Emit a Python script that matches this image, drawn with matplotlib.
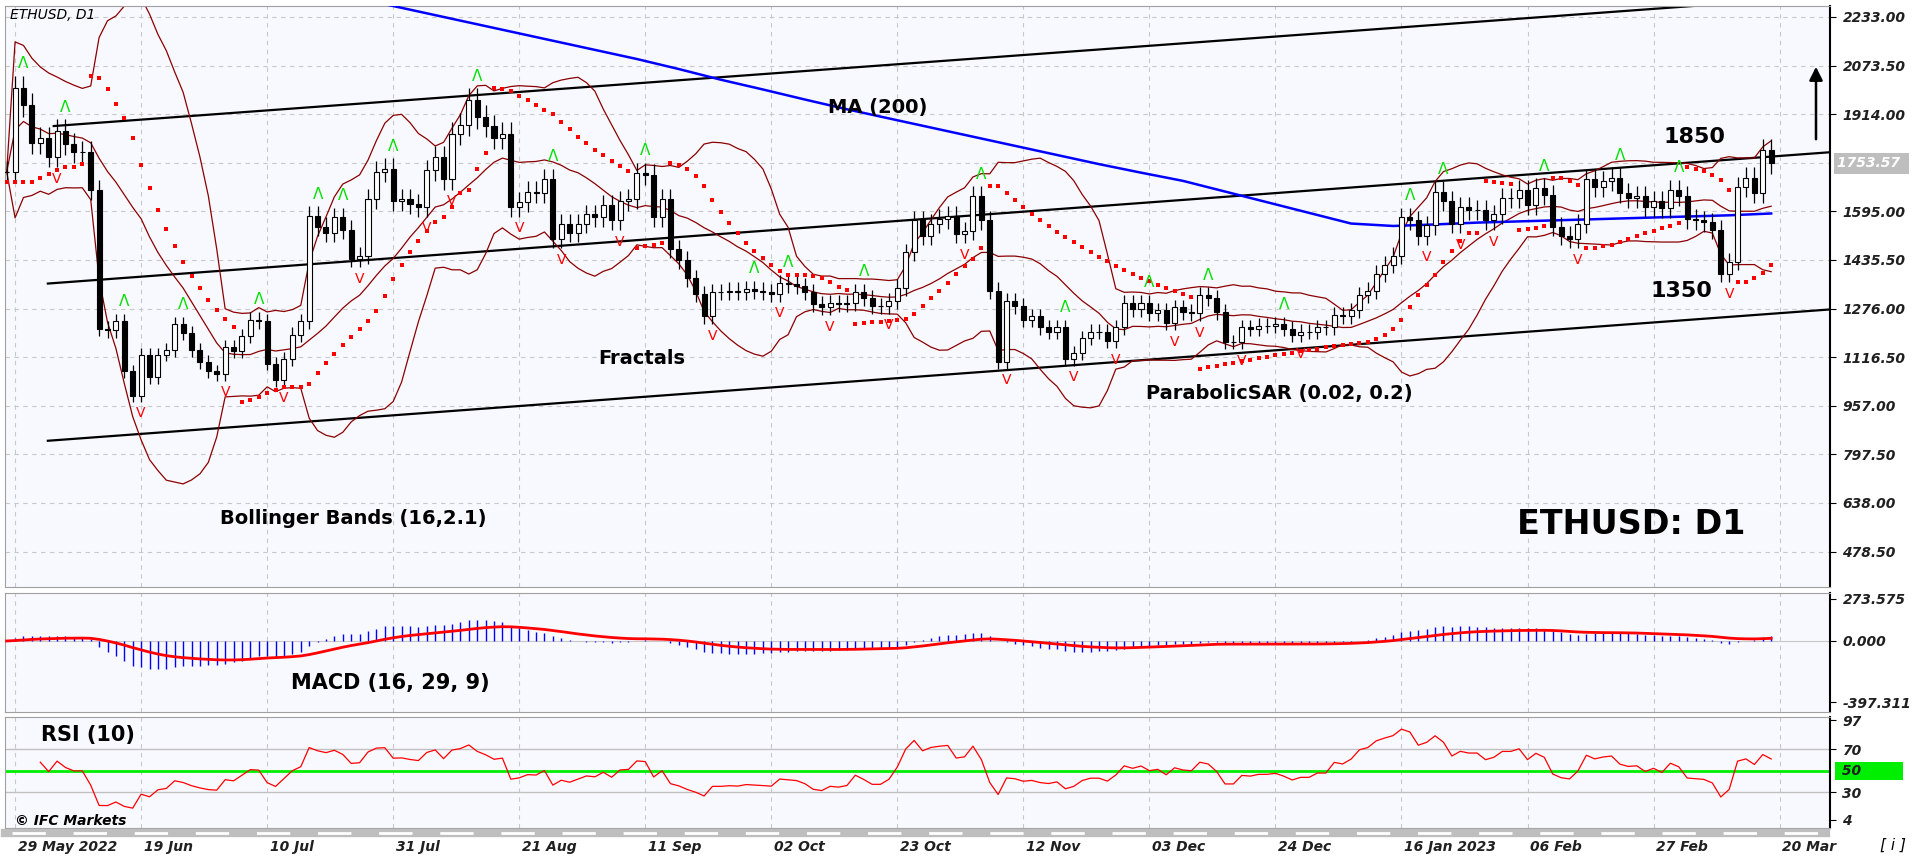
import matplotlib
matplotlib.use("Agg")
import matplotlib.pyplot as plt
import numpy as np
import pandas as pd

# daily closes (calendar days), weekday bars are taken from them
start_day = "2022-05-24"
may22 = [1975, 1945, 1790, 1725, 1790, 1815, 2000, 1945]
jun22 = [1820, 1835, 1775, 1800, 1805, 1860, 1815, 1790, 1790, 1665, 1530, 1440, 1210, 1205, 1235,
         1070, 990, 995, 1125, 1125, 1050, 1125, 1140, 1225, 1245, 1200, 1195, 1140, 1100, 1070]
jul22 = [1060, 1065, 1075, 1150, 1135, 1185, 1240, 1235, 1215, 1170, 1095, 1040, 1110, 1190, 1235,
         1355, 1340, 1580, 1545, 1525, 1575, 1535, 1550, 1600, 1440, 1450, 1635, 1725, 1735, 1700, 1680]
aug22 = [1630, 1635, 1620, 1610, 1730, 1695, 1700, 1775, 1700, 1850, 1880, 1960, 1985, 1935, 1905,
         1875, 1835, 1850, 1610, 1575, 1620, 1625, 1660, 1655, 1700, 1505, 1490, 1425, 1555, 1525, 1555]
sep22 = [1585, 1575, 1555, 1575, 1615, 1565, 1630, 1635, 1720, 1780, 1765, 1715, 1575, 1635, 1470,
         1435, 1470, 1335, 1375, 1325, 1250, 1330, 1330, 1315, 1295, 1335, 1330, 1340, 1335, 1330]
oct22 = [1310, 1275, 1325, 1360, 1355, 1350, 1330, 1320, 1315, 1290, 1280, 1295, 1290, 1295, 1275,
         1305, 1330, 1310, 1285, 1285, 1300, 1315, 1365, 1345, 1460, 1565, 1515, 1555, 1620, 1590, 1570]
nov22 = [1580, 1520, 1530, 1645, 1630, 1570, 1565, 1335, 1100, 1300, 1285, 1255, 1220, 1240, 1250,
         1215, 1200, 1215, 1220, 1140, 1110, 1130, 1180, 1200, 1200, 1220, 1195, 1170, 1215, 1295]
dec22 = [1275, 1295, 1240, 1280, 1260, 1270, 1230, 1280, 1265, 1265, 1275, 1260, 1320, 1310, 1265,
         1165, 1185, 1185, 1165, 1215, 1210, 1220, 1220, 1220, 1220, 1225, 1210, 1190, 1200, 1200, 1195]
jan23 = [1200, 1215, 1215, 1255, 1250, 1270, 1265, 1325, 1320, 1335, 1390, 1420, 1450, 1550, 1550,
         1575, 1565, 1515, 1550, 1660, 1625, 1630, 1630, 1555, 1610, 1600, 1600, 1575, 1645, 1565, 1585]
feb23 = [1640, 1640, 1665, 1665, 1630, 1615, 1670, 1650, 1545, 1515, 1540, 1515, 1505, 1555,
         1700, 1675, 1695, 1690, 1680, 1705, 1655, 1640, 1645, 1610, 1595, 1640, 1630, 1605]
mar23 = [1665, 1645, 1570, 1565, 1565, 1565, 1560, 1535, 1390, 1430, 1475, 1590, 1675, 1705, 1655,
         1795, 1754]

# MA(200) every 5 bars (from bar 40)
ma_bars = list(range(40, 211, 5))
ma_vals = [2310, 2275, 2245, 2215, 2185, 2155, 2125, 2095, 2062, 2027, 1995, 1962, 1930, 1900,
           1870, 1840, 1810, 1780, 1750, 1722, 1695, 1660, 1625, 1590, 1555, 1547, 1552, 1558,
           1562, 1566, 1570, 1574, 1578, 1582, 1588]

date_labels = ["29 May 2022", "19 Jun", "10 Jul", "31 Jul", "21 Aug", "11 Sep", "02 Oct", "23 Oct",
               "12 Nov", "03 Dec", "24 Dec", "16 Jan 2023", "06 Feb", "27 Feb", "20 Mar"]
price_ticks = [2233.00, 2073.50, 1914.00, 1595.00, 1435.50, 1276.00, 1116.50, 957.00, 797.50,
               638.00, 478.50]
last_price = 1753.57
# channel lines: (bar, price) endpoints
channel = [((5.6, 1875), (217, 2302)), ((4.9, 1358), (217, 1789)), ((4.9, 842), (217, 1273))]

allc = may22 + jun22 + jul22 + aug22 + sep22 + oct22 + nov22 + dec22 + jan23 + feb23 + mar23
s = pd.Series(allc, index=pd.date_range(start_day, periods=len(allc), freq="D"))
s = s[s.index.dayofweek < 5]
s = s[s.index >= "2022-05-27"]
close = s.values.astype(float)
n = len(close)
opn = np.r_[close[0], close[:-1]]
high = np.maximum(opn, close) * 1.02
low = np.minimum(opn, close) * 0.98
x = np.arange(n)

# indicators
cs = pd.Series(close)
mid = cs.rolling(16, min_periods=1).mean()
sd = cs.rolling(16, min_periods=2).std(ddof=0).fillna(0)
bb_up, bb_lo = mid + 2.1 * sd, mid - 2.1 * sd

macd = cs.ewm(span=12, adjust=False).mean() - cs.ewm(span=26, adjust=False).mean()
macd2 = cs.ewm(span=16, adjust=False).mean() - cs.ewm(span=29, adjust=False).mean()
sig = macd2.ewm(span=9, adjust=False).mean()

d = cs.diff().fillna(0)
up = d.clip(lower=0).ewm(alpha=0.1, adjust=False).mean()
dn = (-d.clip(upper=0)).ewm(alpha=0.1, adjust=False).mean()
rsi = (100 - 100 / (1 + up / dn.replace(0, 1e-9))).values
rsi[:4] = np.nan

# parabolic SAR
sar = np.zeros(n)
bull = True
af, ep = 0.02, high[0]
sar[0] = low[0]
for i in range(1, n):
    sar[i] = sar[i - 1] + af * (ep - sar[i - 1])
    if bull:
        sar[i] = min(sar[i], low[i - 1], low[max(i - 2, 0)])
        if low[i] < sar[i]:
            bull, sar[i], ep, af = False, ep, low[i], 0.02
        elif high[i] > ep:
            ep, af = high[i], min(af + 0.02, 0.2)
    else:
        sar[i] = max(sar[i], high[i - 1], high[max(i - 2, 0)])
        if high[i] > sar[i]:
            bull, sar[i], ep, af = True, ep, high[i], 0.02
        elif low[i] < ep:
            ep, af = low[i], min(af + 0.02, 0.2)

W, H = 1912, 857
fig = plt.figure(figsize=(W / 100, H / 100), dpi=100)
bg = "#F8F9FF"


def rect(top, bottom, left=5, right=1830):
    return [left / W, 1 - bottom / H, (right - left) / W, (bottom - top) / H]


ax = fig.add_axes(rect(6, 587))
axm = fig.add_axes(rect(593, 712))
axr = fig.add_axes(rect(717, 828))
tick_font = dict(fontsize=10, fontstyle="italic", fontweight="bold", color="#202020")
date_bars = [1 + 15 * k for k in range(len(date_labels))]

for a in (ax, axm, axr):
    a.set_facecolor(bg)
    a.set_xlim(-0.2, 217)
    a.yaxis.tick_right()
    a.set_xticks([])
    for sp in a.spines.values():
        sp.set_color("#A0A0A0")
    a.spines["right"].set_color("black")
    a.spines["right"].set_linewidth(1.5)
    for b in date_bars:
        a.axvline(b, color="#C8C8C8", ls=(0, (4, 4)), lw=0.8, zorder=0)
    a.tick_params(axis="y", length=4, pad=5)

# main panel
ax.set_ylim(362, 2269)
for p in price_ticks + [last_price]:
    ax.axhline(p, color="#C8C8C8", ls=(0, (4, 4)), lw=0.8, zorder=0)
ax.set_yticks(price_ticks)
ax.set_yticklabels([f"{p:.2f}" for p in price_ticks], **tick_font)
ax.text(1.004, last_price, f"{last_price:.2f} ", transform=ax.get_yaxis_transform(),
        va="center", ha="left", color="white", fontsize=10, fontstyle="italic",
        fontweight="bold", bbox=dict(boxstyle="square,pad=0.25", fc="#BEBEBE", ec="none"))

for (x0, y0), (x1, y1) in channel:
    ax.plot([x0, x1], [y0, y1], color="black", lw=1.6, zorder=2)
ax.plot(x, bb_up, color="#8B0000", lw=0.9, zorder=2)
ax.plot(x, bb_lo, color="#8B0000", lw=0.9, zorder=2)
ax.plot(x, mid, color="#8B0000", lw=0.9, zorder=2)
ax.plot(ma_bars, ma_vals, color="#0000FF", lw=1.8, zorder=3)
ax.vlines(x, low, high, color="black", lw=0.9, zorder=4)
upc = close >= opn
bw = 0.6
ax.bar(x[upc], (close - opn)[upc], bottom=opn[upc], width=bw, color="white",
       edgecolor="black", lw=0.8, zorder=5)
ax.bar(x[~upc], (close - opn)[~upc], bottom=opn[~upc], width=bw, color="black",
       edgecolor="black", lw=0.8, zorder=5)
ax.scatter(x, sar, s=6, color="#FF0000", marker="s", zorder=6, lw=0)
for i in range(2, n - 2):
    if high[i] >= high[i - 2:i].max() and high[i] > high[i + 1:i + 3].max():
        ax.text(i, high[i] + 15, "Λ", color="#00E000", ha="center", va="bottom",
                fontsize=11, zorder=7)
    if low[i] <= low[i - 2:i].min() and low[i] < low[i + 1:i + 3].min():
        ax.text(i, low[i] - 15, "V", color="#FF0000", ha="center", va="top",
                fontsize=10, zorder=7)

# MACD panel
axm.set_ylim(-462, 312)
axm.axhline(0, color="#C8C8C8", lw=0.8, zorder=0)
axm.vlines(x, 0, macd, color="#0000FF", lw=1.0, zorder=2)
axm.plot(x, sig, color="#FF0000", lw=2.0, zorder=3)
axm.set_yticks([273.575, 0, -397.311])
axm.set_yticklabels(["273.575", "0.000", "-397.311"], **tick_font)

# RSI panel
axr.set_ylim(-3.5, 100)
for lv in (70, 30):
    axr.axhline(lv, color="#C0C0C0", lw=1.0, zorder=0)
axr.axhline(50, color="#00EE00", lw=2.0, zorder=1)
axr.plot(x, rsi, color="#FF0000", lw=0.9, zorder=2)
axr.set_yticks([97, 70, 30, 4])
axr.set_yticklabels(["97", "70", "30", "4"], **tick_font)
axr.text(1.004, 50, " 50        ", transform=axr.get_yaxis_transform(), va="center",
         ha="left", fontsize=10, fontstyle="italic", fontweight="bold", color="#202020",
         bbox=dict(boxstyle="square,pad=0.15", fc="#00EE00", ec="none"))

# date labels and scroll strip
for b, lab in zip(date_bars, date_labels):
    fig.text((6.6 + 8.4 * b + 3) / W, 1 - 847 / H, lab, ha="left", va="center", **tick_font)
fig.add_artist(plt.Line2D([5 / W, 1826 / W], [1 - 833 / H] * 2, color="#BEBEBE", lw=6))
fig.add_artist(plt.Line2D([12 / W, 1826 / W], [1 - 833 / H] * 2, color="white", lw=2,
                          ls=(0, (12, 10))))
fig.text(1880 / W, 1 - 845 / H, "[ i ]", fontsize=11, fontstyle="italic", va="center")


def ftext(px, py, s, **kw):
    fig.text(px / W, 1 - py / H, s, ha="center", va="center", **kw)


bold = dict(fontweight="bold", color="black", family="DejaVu Sans")
ftext(878, 107, "MA (200)", fontsize=14, **bold)
ftext(642, 358, "Fractals", fontsize=14, **bold)
ftext(353, 519, "Bollinger Bands (16,2.1)", fontsize=14, **bold)
ftext(1279, 394, "ParabolicSAR (0.02, 0.2)", fontsize=14, **bold)
ftext(1695, 137, "1850", fontsize=16, **bold)
ftext(1681, 291, "1350", fontsize=16, **bold)
ftext(1631, 525, "ETHUSD: D1", fontsize=24, **bold)
ftext(390, 683, "MACD (16, 29, 9)", fontsize=15, **bold)
ftext(88, 735, "RSI (10)", fontsize=15, **bold)
fig.text(10 / W, 1 - 15 / H, "ETHUSD, D1", fontsize=10, fontstyle="italic", va="center")
fig.text(15 / W, 1 - 821 / H, "© IFC Markets", fontsize=10, fontstyle="italic",
         fontweight="bold", va="center")
fig.add_artist(matplotlib.patches.FancyArrowPatch((1816 / W, 1 - 142 / H), (1816 / W, 1 - 64 / H),
               transform=fig.transFigure, arrowstyle="-|>,head_width=4,head_length=8",
               color="black", lw=1.8))

fig.savefig("out.png", dpi=100, facecolor="white")
